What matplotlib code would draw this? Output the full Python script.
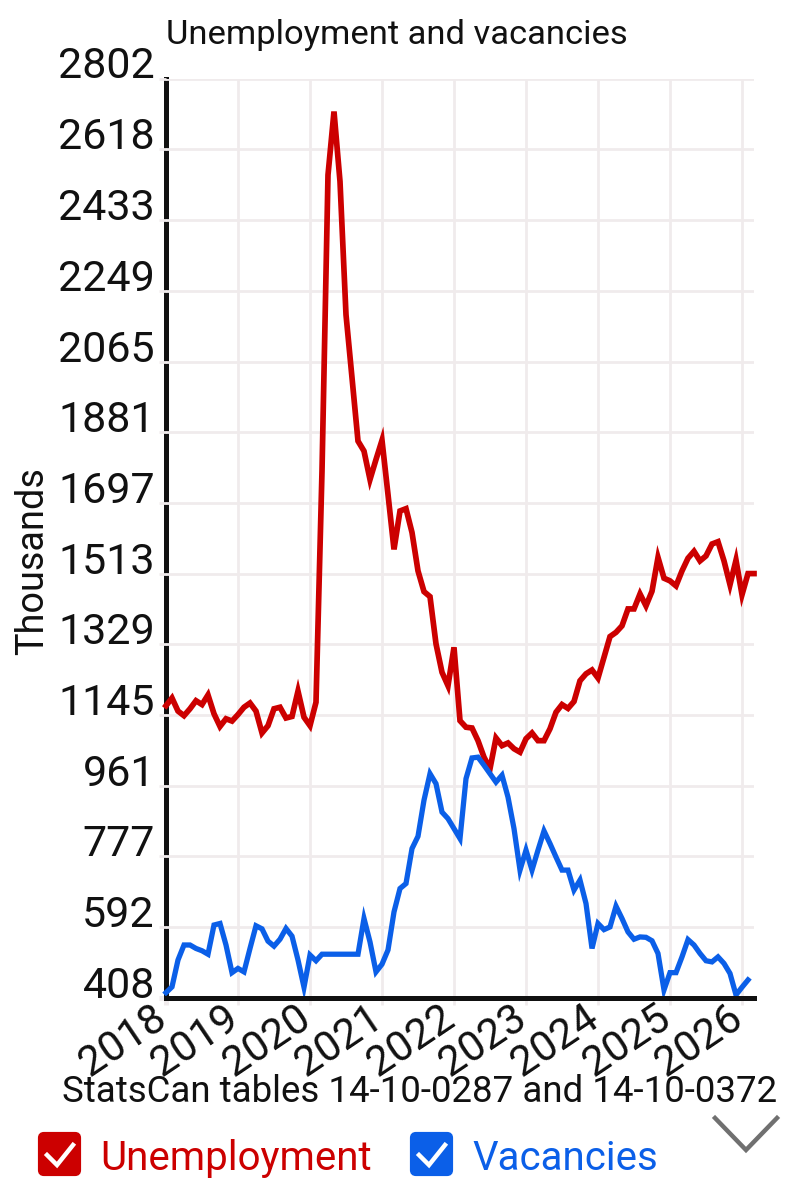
import matplotlib
matplotlib.use('Agg')
import matplotlib.pyplot as plt
from matplotlib.patches import FancyBboxPatch
from matplotlib.transforms import ScaledTranslation

plt.rcParams['font.family'] = ['Roboto', 'DejaVu Sans']

# monthly values in thousands, starting january 2018
unemployment = [1169, 1189, 1155, 1143, 1161, 1182, 1172, 1197, 1148, 1115, 1135, 1129,
                1146, 1165, 1176, 1155, 1098, 1117, 1161, 1165, 1137, 1141, 1207, 1139,
                1117, 1178, 1780, 2551, 2716, 2534, 2187, 2023, 1858, 1832, 1758, 1810,
                1860, 1719, 1576, 1676, 1682, 1620, 1520, 1466, 1453, 1330, 1256, 1221,
                1321, 1130, 1113, 1111, 1078, 1035, 1005, 1085, 1065, 1072, 1057, 1048,
                1083, 1098, 1078, 1078, 1109, 1152, 1172, 1162, 1180, 1234, 1252, 1262,
                1241, 1295, 1349, 1360, 1377, 1421, 1421, 1460, 1429, 1467, 1555, 1501,
                1494, 1481, 1520, 1553, 1571, 1546, 1559, 1590, 1596, 1546, 1484, 1548,
                1458, 1513, 1513]
vacancies = [422, 437, 507, 546, 546, 537, 531, 522, 598, 602, 546, 474,
             485, 476, 537, 596, 588, 556, 543, 561, 589, 569, 507, 436,
             520, 505, 522, 522, 522, 522, 522, 522, 522, 615, 554, 476,
             496, 533, 632, 693, 706, 797, 829, 923, 992, 966, 892, 875,
             849, 823, 979, 1033, 1035, 1014, 992, 970, 988, 931, 849, 741,
             793, 741, 793, 843, 810, 775, 741, 741, 689, 715, 654, 537,
             602, 586, 593, 647, 615, 580, 561, 567, 566, 557, 524, 429,
             474, 474, 515, 560, 546, 524, 505, 502, 515, 498, 472, 416,
             436, 455]
years = ['2018', '2019', '2020', '2021', '2022', '2023', '2024', '2025', '2026']
y_ticks = [408, 592, 777, 961, 1145, 1329, 1513, 1697, 1881, 2065, 2249, 2433, 2618, 2802]

RED = '#cc0000'
BLUE = '#0b5fe8'
GRID = '#f0ebec'

W, H = 794, 1200
fig = plt.figure(figsize=(W / 100, H / 100), dpi=100)
ax = fig.add_axes([166 / W, 1 - 998 / H, 588 / W, (998 - 78.5) / H])

ax.plot(range(len(unemployment)), unemployment, color=RED, lw=4.1, zorder=3,
        solid_joinstyle='miter', clip_on=False)
ax.plot(range(len(vacancies)), vacancies, color=BLUE, lw=3.8, zorder=3,
        solid_joinstyle='miter', clip_on=False)

ax.set_xlim(0, 98)
ax.set_ylim(408, 2802)
ax.set_xticks(range(0, 12 * len(years), 12))
ax.set_xticklabels(years, rotation=34, ha='right', va='top', rotation_mode='anchor',
                   fontsize=30.5, color='#111111')
ax.set_yticks(y_ticks)
ax.set_yticklabels(y_ticks, fontsize=31, color='#111111', va='baseline')
ax.tick_params(axis='x', length=5, width=2.0, color=GRID, pad=0)
ax.tick_params(axis='y', length=5, width=2.0, color=GRID, pad=3)

# x labels sit a bit left of their ticks and close to the axis
shift = ScaledTranslation(-15 / 100, 8 / 100, fig.dpi_scale_trans)
for lab in ax.get_xticklabels():
    lab.set_transform(lab.get_transform() + shift)

# grid goes over the left axis line, which is why that line looks broken
ax.set_axisbelow(False)
ax.grid(True, color=GRID, lw=2.0)
ax.get_xgridlines()[0].set_visible(False)
ax.xaxis.get_major_ticks()[0].tick1line.set_color('#111111')
ax.xaxis.get_major_ticks()[0].tick1line.set_markeredgewidth(3.6)
ax.yaxis.get_major_ticks()[0].tick1line.set_color('#111111')
ax.yaxis.get_major_ticks()[0].tick1line.set_markeredgewidth(3.6)
ax.spines['top'].set_visible(False)
ax.spines['right'].set_visible(False)
ax.spines['left'].set_linewidth(3.6)
ax.spines['left'].set_zorder(2)
ax.spines['left'].set_color('#111111')
ax.spines['bottom'].set_linewidth(3.6)
ax.spines['bottom'].set_zorder(4)
ax.spines['bottom'].set_color('#111111')

# titles and the legend row are placed in pixels
ui = fig.add_axes([0, 0, 1, 1], facecolor='none')
ui.set_xlim(0, W)
ui.set_ylim(H, 0)
ui.axis('off')

ui.text(397, 35, 'Unemployment and vacancies', fontsize=24.8, ha='center', va='center', color='#111111')
ui.text(33, 561, 'Thousands', fontsize=27.3, rotation=90, ha='center', va='center', color='#111111')
ui.text(420, 1092, 'StatsCan tables 14-10-0287 and 14-10-0372', fontsize=26.4, ha='center', va='center',
        color='#111111')

for x0, col, name in [(38, RED, 'Unemployment'), (410, BLUE, 'Vacancies')]:
    ui.add_patch(FancyBboxPatch((x0 + 2, 1134), 39, 40, boxstyle='round,pad=0,rounding_size=4',
                                fc=col, ec=col, lw=3))
    ui.plot([x0 + 9, x0 + 19, x0 + 35], [1155, 1165, 1145], color='white', lw=3.2,
            solid_joinstyle='miter')
    ui.text(x0 + 62, 1158, name, fontsize=29, color=col, ha='left', va='center')

# scroll arrow bottom right
ui.plot([715, 746, 777], [1118, 1150, 1118], color='#707070', lw=3.2, solid_joinstyle='miter')

fig.savefig('out.png', dpi=100)
